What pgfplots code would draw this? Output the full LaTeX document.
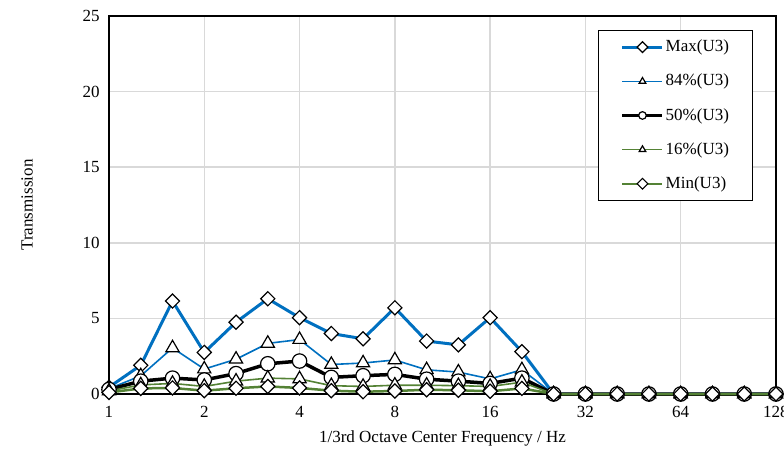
\documentclass[border=0pt]{standalone}
\usepackage{fontspec}
\setmainfont{Liberation Serif}
\usepackage{pgfplots}
\pgfplotsset{compat=1.18}
\usepackage{pgfplotstable}
\definecolor{xlblue}{RGB}{0,112,192}
\definecolor{xlgreen}{RGB}{84,130,53}
\definecolor{gridgray}{RGB}{217,217,217}

\pgfplotstableread{
f max p84 p50 p16 min
1 0.45 0.35 0.30 0.20 0.10
1.2599 1.90 1.20 0.85 0.60 0.37
1.5874 6.15 3.05 1.05 0.70 0.40
2 2.75 1.65 0.93 0.50 0.22
2.5198 4.75 2.30 1.35 0.85 0.38
3.1748 6.30 3.35 2.00 1.05 0.50
4 5.05 3.60 2.18 1.00 0.40
5.0397 4.00 1.95 1.10 0.55 0.22
6.3496 3.65 2.05 1.21 0.50 0.15
8 5.70 2.25 1.30 0.58 0.20
10.0794 3.50 1.60 0.98 0.58 0.28
12.6992 3.25 1.45 0.85 0.55 0.25
16 5.05 1.00 0.70 0.50 0.18
20.1587 2.80 1.60 1.05 0.78 0.37
25.3984 0 0 0 0 0
32 0 0 0 0 0
40.3175 0 0 0 0 0
50.7968 0 0 0 0 0
64 0 0 0 0 0
80.6349 0 0 0 0 0
101.5937 0 0 0 0 0
128 0 0 0 0 0
}\datatable

\begin{document}
\fontsize{8.5}{10}\selectfont
\begin{tikzpicture}
\begin{axis}[
  width=333.5pt, height=189pt, scale only axis,
  xmode=log, log basis x=2, xmin=1, xmax=128,
  xtick={1,2,4,8,16,32,64,128},
  xticklabels={1,2,4,8,16,32,64,128},
  ymin=0, ymax=25, ytick={0,5,10,15,20,25},
  xmajorgrids, ymajorgrids,
  grid style={gridgray, line width=0.75pt},
  axis line style={black, line width=0.75pt},
  major tick length=0pt,
  tick style={draw=none},
  clip=false,
  /pgf/number format/assume math mode=true,
  xticklabel style={yshift=-3.3pt},
  yticklabel style={xshift=-1.7pt},
  xlabel={1/3rd Octave Center Frequency / Hz},
  ylabel={Transmission},
  xlabel style={at={(axis description cs:0.5,-0.1164)}, anchor=center},
  ylabel style={at={(axis description cs:-0.123,0.5)}, anchor=center},
  legend style={at={(1,1)}, anchor=north east, xshift=-11.5pt, yshift=-7pt,
    draw=black, line width=0.5pt, inner xsep=11pt, inner ysep=4pt,
    row sep=8.4pt, nodes={inner sep=0.75pt}, cells={anchor=west},
    font=\fontsize{8.5}{10}\selectfont},
  legend image code/.code={\draw[mark repeat=2,mark phase=2,#1,mark size=1.9pt] plot coordinates {(0pt,0pt) (10pt,0pt) (20pt,0pt)};},
]
\addplot[xlblue, line width=1.5pt, mark=square*, mark size=2.5pt,
  mark options={rotate=45, fill=white, draw=black, line width=0.6pt}]
  table[x=f, y=max]{\datatable};
\addlegendentry{Max(U3)}
\addplot[xlblue, line width=0.8pt, mark=triangle*, mark size=3.8pt,
  mark options={fill=white, draw=black, line width=0.6pt}]
  table[x=f, y=p84]{\datatable};
\addlegendentry{84\%(U3)}
\addplot[black, line width=1.75pt, mark=*, mark size=3.6pt,
  mark options={fill=white, draw=black, line width=0.6pt}]
  table[x=f, y=p50]{\datatable};
\addlegendentry{50\%(U3)}
\addplot[xlgreen, line width=0.8pt, mark=triangle*, mark size=3.8pt,
  mark options={fill=white, draw=black, line width=0.6pt}]
  table[x=f, y=p16]{\datatable};
\addlegendentry{16\%(U3)}
\addplot[xlgreen, line width=1.25pt, mark=square*, mark size=2.5pt,
  mark options={rotate=45, fill=white, draw=black, line width=0.6pt}]
  table[x=f, y=min]{\datatable};
\addlegendentry{Min(U3)}
\end{axis}
\pgfresetboundingbox
\path ([shift={(-54.5pt,-29pt)}]current axis.south west) rectangle ++(392pt,226pt);
\end{tikzpicture}
\end{document}
